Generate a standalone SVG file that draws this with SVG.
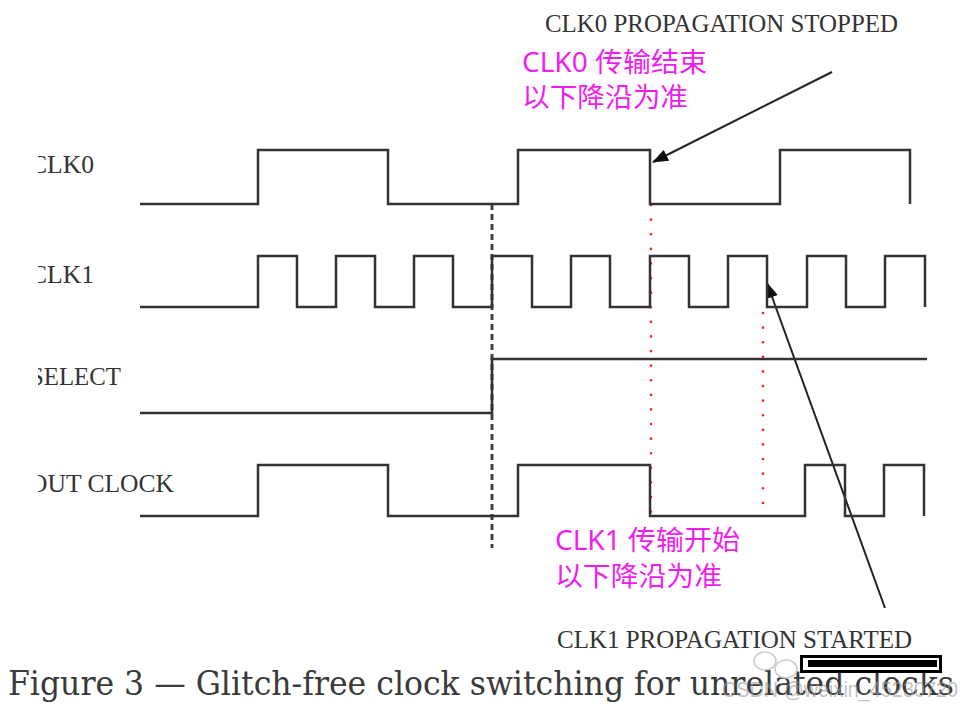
<svg xmlns="http://www.w3.org/2000/svg" width="967" height="707" viewBox="0 0 967 707">
<style>
.wave{fill:none;stroke:#333;stroke-width:2.5;stroke-linejoin:miter}
.lbl{font-family:"Liberation Serif",serif;font-size:26px;fill:#333}
.note{font-family:"Liberation Serif",serif;font-size:26px;fill:#333}
.cn{font-family:"Noto Sans","Noto Sans CJK SC",sans-serif;font-size:27px;fill:#f01df0}
.ptr{stroke:#222;stroke-width:2;fill:none}
.red{stroke:#f22;stroke-width:2.6;stroke-linecap:round;stroke-dasharray:0.1 14.5;fill:none}
</style>
<defs>
<marker id="arr" viewBox="0 0 16 12" refX="15" refY="6" markerWidth="16" markerHeight="12" markerUnits="userSpaceOnUse" orient="auto">
<path d="M0,0 L16,6 L0,12 Z" fill="#111"/>
</marker>
<clipPath id="lc"><rect x="38" y="0" width="929" height="707"/></clipPath>
</defs>
<rect width="967" height="707" fill="#fff"/>

<g id="connectors">
<line x1="492" y1="204" x2="492" y2="548" stroke="#444" stroke-width="3" stroke-dasharray="6 4"/>
<line class="red" x1="651" y1="205" x2="651" y2="516"/>
<line class="red" x1="763" y1="313" x2="763" y2="516"/>
<line class="ptr" x1="832" y1="72" x2="653" y2="162" marker-end="url(#arr)"/>
<line class="ptr" x1="885" y1="608" x2="767" y2="283" marker-end="url(#arr)"/>
</g>

<g id="clk0">
<text class="lbl" x="30" y="173" textLength="64" lengthAdjust="spacingAndGlyphs" clip-path="url(#lc)">CLK0</text>
<path class="wave" d="M140,204 H258 V150 H388 V204 H518 V150 H650 V204 H780 V150 H910 V204"/>
</g>
<g id="clk1">
<text class="lbl" x="30" y="283" textLength="64" lengthAdjust="spacingAndGlyphs" clip-path="url(#lc)">CLK1</text>
<path class="wave" d="M140,307 H258 V256 H297 V307 H336 V256 H375 V307 H414 V256 H453 V307 H492 V256 H532 V307 H571 V256 H610 V307 H650 V256 H689 V307 H728 V256 H767 V307 H807 V256 H846 V307 H885 V256 H925 V307"/>
</g>
<g id="select">
<text class="lbl" x="30" y="385" textLength="91" lengthAdjust="spacingAndGlyphs" clip-path="url(#lc)">SELECT</text>
<path class="wave" d="M140,413 H492 V359 H927"/>
</g>
<g id="outclock">
<text class="lbl" x="29" y="492" textLength="145" lengthAdjust="spacingAndGlyphs" clip-path="url(#lc)">OUT CLOCK</text>
<path class="wave" d="M140,516 H258 V465 H388 V516 H518 V465 H650 V516 H805 V465 H845 V516 H884 V465 H924 V516"/>
</g>

<g id="note-stopped">
<text class="note" x="545" y="32" textLength="353" lengthAdjust="spacingAndGlyphs">CLK0 PROPAGATION STOPPED</text>
<text class="cn" x="522" y="72" textLength="185" lengthAdjust="spacingAndGlyphs">CLK0 传输结束</text>
<text class="cn" x="522" y="107" textLength="166" lengthAdjust="spacingAndGlyphs">以下降沿为准</text>
</g>
<g id="note-started">
<text class="cn" x="555" y="550" textLength="185" lengthAdjust="spacingAndGlyphs">CLK1 传输开始</text>
<text class="cn" x="555" y="586" textLength="167" lengthAdjust="spacingAndGlyphs">以下降沿为准</text>
<text class="note" x="557" y="648" textLength="355" lengthAdjust="spacingAndGlyphs">CLK1 PROPAGATION STARTED</text>
</g>

<g id="caption">
<text x="8" y="695" font-family="'DejaVu Serif','Liberation Serif',serif" font-size="33" fill="#3a3a3a" textLength="946" lengthAdjust="spacingAndGlyphs">Figure 3 — Glitch-free clock switching for unrelated clocks</text>
</g>

<g id="watermark">
<ellipse cx="765" cy="661" rx="11" ry="9" fill="none" stroke="#ccc" stroke-width="1.5"/>
<ellipse cx="786" cy="669" rx="11" ry="9" fill="none" stroke="#ccc" stroke-width="1.5"/>
<rect x="800" y="655" width="142" height="18" fill="#000"/>
<rect x="803" y="658" width="136" height="12" fill="#fff"/>
<rect x="808" y="660" width="129" height="7" fill="#000"/>
<text x="722" y="697" font-family="'Liberation Sans',sans-serif" font-size="22" fill="#999" fill-opacity="0.6" textLength="236" lengthAdjust="spacingAndGlyphs">CSDN @weixin_45230720</text>
</g>
</svg>
